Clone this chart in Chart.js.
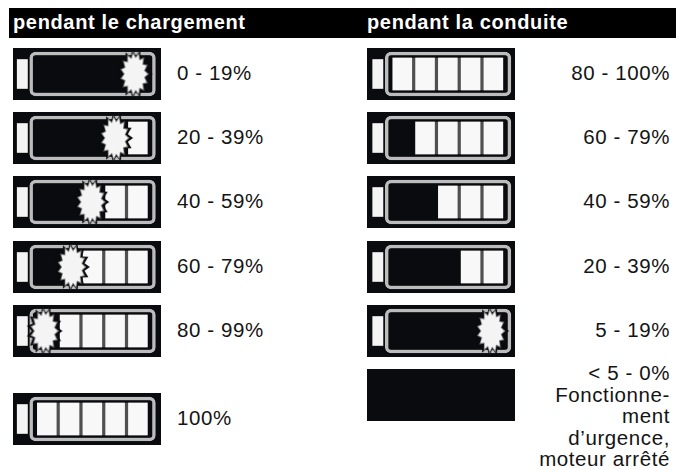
<!DOCTYPE html>
<html>
<head>
<meta charset="utf-8">
<script src="https://cdn.jsdelivr.net/npm/chart.js@4/dist/chart.umd.min.js"></script>
<style>
  html, body { margin: 0; padding: 0; background: #fff; }
  body { position: relative; width: 676px; height: 470px; overflow: hidden; font-family: "Liberation Sans", Arial, sans-serif; color: #141414; }
  .head { position: absolute; top: 8px; height: 30px; line-height: 29px; background: #000; color: #fff; font-weight: bold; font-size: 20px; letter-spacing: .65px; box-sizing: border-box; }
  .icon { position: absolute; width: 148px; height: 52px; background: #0a0b0f; overflow: hidden; }
  .icon canvas { display: block; filter: blur(.55px); }
  .lbl { position: absolute; font-size: 20.5px; line-height: 21.5px; white-space: pre-line; letter-spacing: .6px; }
</style>
</head>
<body>
<script>
const chargingTitle = 'pendant le chargement'
const drivingTitle = 'pendant la conduite'

// one row = one battery icon. cells = lit segments counted from the right
const chargingLabels = ['0 - 19%', '20 - 39%', '40 - 59%', '60 - 79%', '80 - 99%', '100%']
const chargingCells = [0, 1, 2, 3, 4, 5]
const chargingSpark = [13, 30, 51, 68, 92, null]

const drivingLabels = ['80 - 100%', '60 - 79%', '40 - 59%', '20 - 39%', '5 - 19%', '< 5 - 0%\nFonctionne-\nment\nd\u2019urgence,\nmoteur arr\u00eat\u00e9']
const drivingCells = [5, 4, 3, 2, 0, null]
const drivingSpark = [null, null, null, null, 12, null]

const chargingTops = [48, 112, 176, 241, 305, 393]
const drivingTops = [48, 112, 176, 241, 305, 369]

const CELL = 20
const CELL_GAP = 1.7

function makeBurst() {
  const c = document.createElement('canvas')
  c.width = 40
  c.height = 52
  const ctx = c.getContext('2d')
  const star = (rx, ry, inner, color) => {
    const n = 15
    ctx.beginPath()
    for (let i = 0; i < n * 2; i++) {
      const a = i * Math.PI / n
      const k = i % 2 ? inner : 1
      ctx.lineTo(20 + Math.cos(a) * rx * k, 26 + Math.sin(a) * ry * k)
    }
    ctx.closePath()
    ctx.fillStyle = color
    ctx.fill()
  }
  star(18, 25, .72, '#0a0b0f')
  star(14.5, 23, .74, '#777')
  star(13, 20.5, .76, '#f4f4f4')
  return c
}
const burst = makeBurst()

function batteryDatasets(cells, spark) {
  if (cells === null) return []
  const sets = []
  if (spark !== null) {
    sets.push({ type: 'scatter', data: [{ x: spark, y: 'b' }], pointStyle: burst, pointRadius: 10, clip: false })
  }
  for (let i = 0; i < cells; i++) {
    sets.push({
      data: [[i * CELL + CELL_GAP, (i + 1) * CELL - CELL_GAP]],
      backgroundColor: '#f8f8f8',
      barThickness: 32
    })
  }
  // grey seams between the lit segments
  if (cells > 1) {
    sets.push({
      data: [[CELL_GAP, cells * CELL - CELL_GAP]],
      backgroundColor: '#505050',
      barThickness: 32
    })
  }
  // battery shell, then the small white block on the left
  sets.push({
    data: [[-5.4, 105]],
    backgroundColor: '#0a0b0f',
    borderColor: '#bcbcbc',
    borderWidth: 3.5,
    borderRadius: 6,
    borderSkipped: false,
    barThickness: 44
  })
  sets.push({
    data: [[107, 116]],
    backgroundColor: '#f4f4f4',
    barThickness: 29
  })
  return sets
}

function addIcon(left, top, cells, spark, shift) {
  const box = document.createElement('div')
  box.className = 'icon'
  box.style.left = left + 'px'
  box.style.top = top + 'px'
  const cv = document.createElement('canvas')
  cv.width = 148
  cv.height = 52
  box.appendChild(cv)
  document.body.appendChild(box)
  new Chart(cv, {
    type: 'bar',
    data: { labels: ['b'], datasets: batteryDatasets(cells, spark) },
    options: {
      indexAxis: 'y',
      responsive: false,
      animation: false,
      grouped: false,
      layout: { padding: 0, autoPadding: false },
      plugins: { legend: { display: false }, tooltip: { enabled: false } },
      scales: {
        x: { type: 'linear', reverse: true, min: -9 - shift, max: 121 - shift, display: false },
        y: { type: 'category', labels: ['b'], display: false }
      }
    }
  })
}

function addHead(text, left, width, pad) {
  const d = document.createElement('div')
  d.className = 'head'
  d.textContent = text
  d.style.left = left + 'px'
  d.style.width = width + 'px'
  d.style.paddingLeft = pad + 'px'
  document.body.appendChild(d)
}

function addLabel(text, top, side, pos) {
  const d = document.createElement('div')
  d.className = 'lbl'
  d.textContent = text
  d.style.top = top + 'px'
  d.style[side] = pos + 'px'
  if (side === 'right') d.style.textAlign = 'right'
  document.body.appendChild(d)
}

addHead(chargingTitle, 9, 329, 4)
addHead(drivingTitle, 338, 338, 29)

chargingLabels.forEach((label, i) => {
  addIcon(13, chargingTops[i], chargingCells[i], chargingSpark[i], 1.3)
  addLabel(label, chargingTops[i] + 14, 'left', 177)
})
drivingLabels.forEach((label, i) => {
  addIcon(367, drivingTops[i], drivingCells[i], drivingSpark[i], 0)
  addLabel(label, i === 5 ? 362 : drivingTops[i] + 14, 'right', 6)
})
</script>
</body>
</html>
